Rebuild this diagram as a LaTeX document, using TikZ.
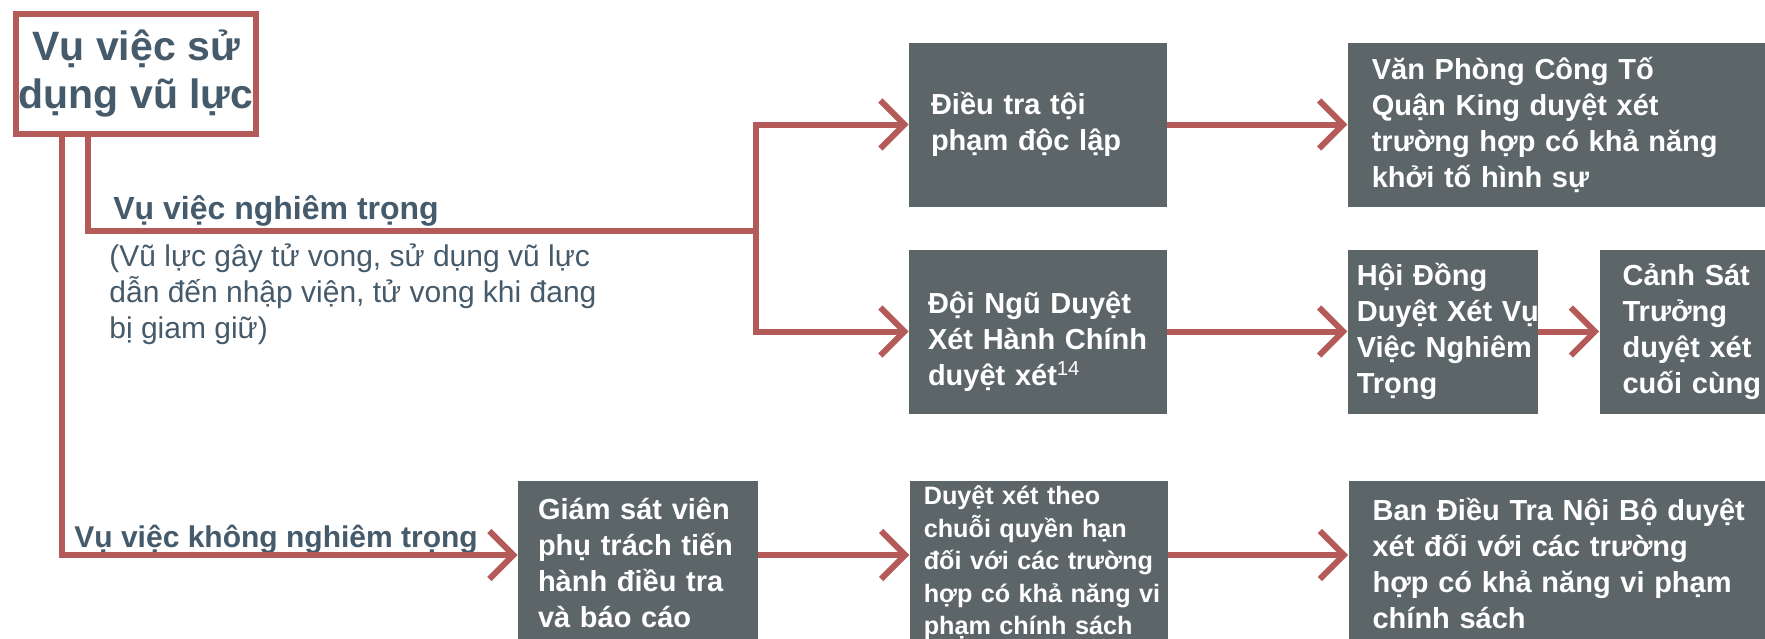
\documentclass[tikz,border=0pt]{standalone}
\usepackage{fontspec}
\setmainfont{Liberation Sans}
\usetikzlibrary{arrows.meta,positioning}

\definecolor{linkred}{HTML}{B45B59}
\definecolor{boxgrey}{HTML}{5C6669}
\definecolor{slate}{HTML}{455A6A}

\tikzset{
	box/.style={fill=boxgrey, text=white, align=left, inner xsep=11pt, inner ysep=0pt, minimum height=82pt, font=\fontsize{14.5}{18}\selectfont\bfseries},
	link/.style={draw=linkred, line width=3pt, -{Straight Barb[length=12pt,width=24pt]}},
	trunk/.style={draw=linkred, line width=3pt},
	casetext/.style={text=slate, inner sep=0pt, font=\fontsize{15}{18}\selectfont},
}

\begin{document}
\begin{tikzpicture}[x=0.5pt, y=-0.5pt]
	\useasboundingbox (0,0) rectangle (1765,638);

	\node (incident) [draw=linkred, line width=3pt, minimum width=120pt, minimum height=60pt, inner sep=0pt, align=center, text=slate, font=\fontsize{20.5}{24}\selectfont\bfseries] at (136,74) {Vụ việc sử\\dụng vũ lực};

	\node (dieutra) [box, minimum width=129pt, text width=107pt] at (1038,124.5) {Điều tra tội\\phạm độc lập};
	\node (vanphong) [box, right=90pt of dieutra, text width=200pt, inner xsep=12pt] {Văn Phòng Công Tố\\Quận King duyệt xét\\trường hợp có khả năng\\khởi tố hình sự};

	\node (doingu) [box, minimum width=129pt, text width=110pt, inner xsep=9.5pt] at (1038,331.5) {\rule{0pt}{21pt}Đội Ngũ Duyệt\\Xét~Hành~Chính\\duyệt xét\textsuperscript{\mdseries 14}};
	\node (hoidong) [box, right=90pt of doingu, minimum width=95pt, text width=86pt, inner xsep=4.5pt] {Hội Đồng\\Duyệt~Xét~Vụ\\Việc~Nghiêm\\Trọng};
	\node (canhsat) [box, right=30.5pt of hoidong, minimum width=95pt, text width=72pt, inner xsep=11.5pt] {Cảnh Sát\\Trưởng\\duyệt xét\\cuối cùng};

	\node (giamsat) [box, minimum width=120pt, text width=100pt, inner xsep=10pt] at (638,563) {Giám sát viên\\phụ trách tiến\\hành điều tra\\và báo cáo};
	\node (duyetxet) [box, right=75.5pt of giamsat, minimum width=129pt, text width=115pt, inner xsep=7pt, font=\fontsize{12.6}{16.25}\selectfont\bfseries] {Duyệt xét theo\\chuỗi quyền hạn\\đối~với~các~trường\\hợp~có~khả~năng~vi\\phạm chính sách};
	\node (bandieutra) [box, right=90pt of duyetxet, text width=200pt, inner xsep=12pt] {Ban Điều Tra Nội Bộ duyệt\\xét đối với các trường\\hợp có khả năng vi phạm\\chính sách};

	\node (seriouslabel) [casetext, anchor=base west, font=\fontsize{16}{18}\selectfont\bfseries] at (113,219) {Vụ việc nghiêm trọng};
	\node (seriousnote) [casetext, align=left, anchor=base west] at (109,338) {(Vũ lực gây tử vong, sử dụng vũ lực\\dẫn đến nhập viện, tử vong khi đang\\bị giam giữ)};
	\node (minorlabel) [casetext, anchor=base west, font=\fontsize{15}{18}\selectfont\bfseries] at (74,547) {Vụ việc không nghiêm trọng};

	\coordinate (split) at (756,231);

	\draw[trunk] ([xshift=-24pt]incident.south) |- (split);
	\draw[link] (split) |- (dieutra);
	\draw[link] (split) |- (doingu);
	\draw[link] (dieutra) -- (vanphong);
	\draw[link] (doingu) -- (hoidong);
	\draw[link] (hoidong) -- (canhsat);

	\draw[link] ([xshift=-37pt]incident.south) |- ([yshift=4pt]giamsat.west);
	\draw[link] ([yshift=4pt]giamsat.east) -- ([yshift=4pt]duyetxet.west);
	\draw[link] ([yshift=4pt]duyetxet.east) -- ([yshift=4pt]bandieutra.west);
\end{tikzpicture}
\end{document}
